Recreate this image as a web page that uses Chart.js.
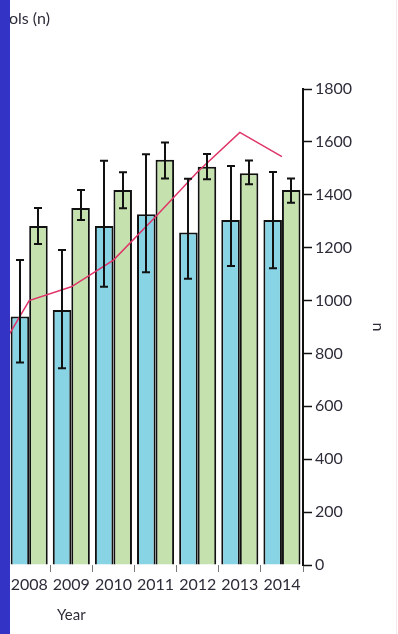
<!DOCTYPE html>
<html>
<head>
<meta charset="utf-8">
<script src="https://cdn.jsdelivr.net/npm/chart.js@4"></script>
<style>
    html, body { margin: 0; padding: 0; background: #fff; overflow: hidden; width: 398px; height: 634px; position: relative; }
    #wrap { position: absolute; left: -42px; top: 0; width: 440px; height: 634px; }
    #strip { position: absolute; left: 0; top: 0; width: 10px; height: 634px; background: #3333c6; }
    #edge { position: absolute; left: 396px; top: 0; width: 1px; height: 634px; background: #f6e8ec; }
</style>
</head>
<body>
<div id="wrap"><canvas id="chart" width="440" height="634"></canvas></div>
<div id="strip"></div>
<div id="edge"></div>
<script>
// years (2007 lies off the left edge, only the line runs into it)
const years = ['2007', '2008', '2009', '2010', '2011', '2012', '2013', '2014']

const blueValues = [null, 940, 964, 1282, 1326, 1257, 1305, 1305]
const blueHigh = [null, 1153, 1191, 1529, 1553, 1461, 1509, 1486]
const blueLow = [null, 766, 744, 1052, 1107, 1082, 1131, 1122]

const greenValues = [null, 1282, 1350, 1418, 1532, 1506, 1481, 1418]
const greenHigh = [null, 1350, 1418, 1485, 1598, 1554, 1530, 1462]
const greenLow = [null, 1214, 1305, 1349, 1462, 1459, 1440, 1370]

const lineValues = [730, 1000, 1052, 1153, 1317, 1487, 1636, 1544]

const yTicks = [0, 200, 400, 600, 800, 1000, 1200, 1400, 1600, 1800]

const txt = '#2d2d3a'
const font = { family: "'Lato', sans-serif", size: 16 }

// black error bars with caps, drawn on top of the bars
const errorBars = {
    id: 'errorBars',
    afterDatasetsDraw(chart) {
        const ctx = chart.ctx
        const y = chart.scales.y
        const sets = [[0, blueLow, blueHigh], [1, greenLow, greenHigh]]
        ctx.save()
        ctx.strokeStyle = '#111'
        ctx.lineWidth = 2
        sets.forEach(([i, lo, hi]) => {
            chart.getDatasetMeta(i).data.forEach((bar, j) => {
                if (lo[j] == null) return
                const x = Math.round(bar.x)
                const yl = y.getPixelForValue(lo[j])
                const yh = y.getPixelForValue(hi[j])
                ctx.beginPath()
                ctx.moveTo(x, yl); ctx.lineTo(x, yh)
                ctx.moveTo(x - 4, yl); ctx.lineTo(x + 4, yl)
                ctx.moveTo(x - 4, yh); ctx.lineTo(x + 4, yh)
                ctx.stroke()
            })
        })
        ctx.restore()
    }
}

// loose labels: the cut title at top left and the "Year" caption
const extraText = {
    id: 'extraText',
    afterDraw(chart) {
        const ctx = chart.ctx
        ctx.save()
        ctx.fillStyle = txt
        ctx.font = "16px 'Lato', sans-serif"
        ctx.textBaseline = 'alphabetic'
        ctx.textAlign = 'left'
        ctx.fillText('ols (n)', 51, 24)
        ctx.font = "15px 'Lato', sans-serif"
        ctx.textAlign = 'center'
        ctx.textBaseline = 'middle'
        ctx.fillText('Year', chart.scales.x.getPixelForValue(2), 615)
        ctx.restore()
    }
}

const ctx = document.getElementById('chart').getContext('2d')
const chart = new Chart(ctx, {
    type: 'bar',
    data: {
        labels: years,
        datasets: [
            {
                label: 'Cases (n)',
                data: blueValues,
                backgroundColor: '#88d4e4',
                borderColor: '#111',
                borderWidth: 2,
                categoryPercentage: 0.88,
                barPercentage: 1.0,
                order: 1
            },
            {
                label: 'Controls (n)',
                data: greenValues,
                backgroundColor: '#c4e1ae',
                borderColor: '#111',
                borderWidth: 2,
                categoryPercentage: 0.88,
                barPercentage: 1.0,
                order: 1
            },
            {
                type: 'line',
                label: 'Total (n)',
                data: lineValues,
                borderColor: '#e03468',
                borderWidth: 1.5,
                pointRadius: 0,
                tension: 0,
                fill: false,
                order: 0
            }
        ]
    },
    options: {
        responsive: false,
        animation: false,
        layout: { padding: { left: 8, top: 89, right: 0, bottom: 0 } },
        plugins: {
            legend: { display: false },
            title: { display: false },
            tooltip: { enabled: false }
        },
        scales: {
            x: {
                grid: { drawOnChartArea: false, offset: true, tickLength: 7, color: '#777' },
                border: { display: false },
                ticks: { color: txt, font: font, padding: 3, maxRotation: 0, autoSkip: false },
                afterFit(s) { s.height = 69 }
            },
            y: {
                position: 'right',
                min: 0,
                max: 1800,
                afterBuildTicks(s) { s.ticks = yTicks.map(v => ({ value: v })) },
                ticks: { color: txt, font: font, padding: 3, callback: v => String(v) },
                grid: { drawOnChartArea: false, tickLength: 9, color: '#111', tickWidth: 1.5 },
                border: { color: '#111', width: 2 },
                title: { display: true, text: 'n', color: txt, font: font, padding: { top: 10, bottom: 0 } },
                afterFit(s) { s.width = 95 }
            }
        }
    },
    plugins: [errorBars, extraText]
})
</script>
</body>
</html>
